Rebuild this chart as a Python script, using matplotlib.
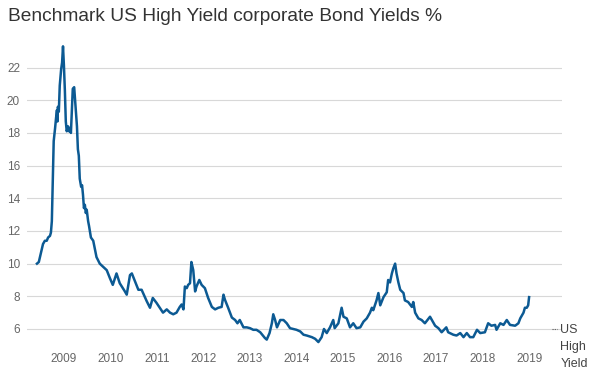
import matplotlib.pyplot as plt
from matplotlib.lines import Line2D

# decimal year / yield %
dates = [
    2008.42, 2008.46, 2008.51, 2008.55, 2008.59, 2008.63, 2008.66, 2008.70, 2008.72, 2008.74,
    2008.76, 2008.78, 2008.81, 2008.83, 2008.85, 2008.86, 2008.87, 2008.89, 2008.91, 2008.94,
    2008.96, 2008.98, 2009.00, 2009.02, 2009.04, 2009.06, 2009.09, 2009.11, 2009.13, 2009.15,
    2009.17, 2009.19, 2009.22, 2009.24, 2009.26, 2009.28, 2009.30, 2009.32, 2009.34, 2009.37,
    2009.39, 2009.41, 2009.43, 2009.45, 2009.47, 2009.49, 2009.52, 2009.54, 2009.58, 2009.63,
    2009.70, 2009.77, 2009.92, 2009.99, 2010.05, 2010.13, 2010.20, 2010.31, 2010.35, 2010.42,
    2010.46, 2010.53, 2010.60, 2010.67, 2010.78, 2010.85, 2010.91, 2010.99, 2011.06, 2011.13,
    2011.21, 2011.28, 2011.35, 2011.42, 2011.49, 2011.53, 2011.57, 2011.60, 2011.64, 2011.67,
    2011.71, 2011.74, 2011.78, 2011.82, 2011.85, 2011.91, 2011.96, 2012.03, 2012.10, 2012.18,
    2012.25, 2012.32, 2012.39, 2012.43, 2012.46, 2012.53, 2012.61, 2012.68, 2012.73, 2012.78,
    2012.86, 2012.93, 2013.00, 2013.07, 2013.14, 2013.22, 2013.32, 2013.36, 2013.42, 2013.47,
    2013.50, 2013.54, 2013.58, 2013.65, 2013.72, 2013.79, 2013.86, 2013.93, 2014.00, 2014.08,
    2014.15, 2014.22, 2014.33, 2014.40, 2014.47, 2014.54, 2014.59, 2014.65, 2014.72, 2014.79,
    2014.82, 2014.90, 2014.97, 2015.01, 2015.08, 2015.15, 2015.22, 2015.29, 2015.37, 2015.44,
    2015.51, 2015.58, 2015.62, 2015.65, 2015.72, 2015.76, 2015.80, 2015.87, 2015.94, 2015.97,
    2016.01, 2016.05, 2016.08, 2016.12, 2016.15, 2016.19, 2016.23, 2016.30, 2016.33, 2016.40,
    2016.48, 2016.51, 2016.55, 2016.62, 2016.69, 2016.76, 2016.87, 2016.91, 2016.98, 2017.05,
    2017.12, 2017.22, 2017.26, 2017.37, 2017.44, 2017.52, 2017.59, 2017.66, 2017.73, 2017.80,
    2017.88, 2017.95, 2018.05, 2018.12, 2018.19, 2018.27, 2018.30, 2018.38, 2018.45, 2018.52,
    2018.59, 2018.70, 2018.77, 2018.81, 2018.88, 2018.91, 2018.95, 2018.98, 2019.00,
]
yields = [
    10.0, 10.1, 10.7, 11.2, 11.4, 11.4, 11.6, 11.7, 11.9, 12.6,
    15.1, 17.5, 18.3, 18.9, 19.4, 18.7, 19.6, 19.3, 20.9, 21.9,
    22.3, 23.3, 22.1, 20.6, 18.7, 18.1, 18.4, 18.1, 18.3, 18.0,
    19.4, 20.7, 20.8, 20.0, 19.2, 18.4, 17.0, 16.6, 15.2, 14.7,
    14.8, 14.2, 13.4, 13.6, 13.1, 13.3, 12.6, 12.3, 11.6, 11.4,
    10.4, 10.0, 9.6, 9.1, 8.7, 9.4, 8.8, 8.3, 8.1, 9.3,
    9.4, 8.9, 8.4, 8.4, 7.7, 7.3, 7.9, 7.6, 7.3, 7.0,
    7.2, 7.0, 6.9, 7.0, 7.35, 7.5, 7.2, 8.6, 8.5, 8.7,
    8.8, 10.1, 9.6, 8.3, 8.6, 9.0, 8.7, 8.5, 7.9, 7.35,
    7.2, 7.3, 7.35, 8.1, 7.8, 7.3, 6.7, 6.55, 6.35, 6.55,
    6.1, 6.1, 6.05, 5.95, 5.95, 5.8, 5.45, 5.35, 5.75, 6.35,
    6.9, 6.55, 6.1, 6.55, 6.55, 6.35, 6.05, 6.0, 5.95, 5.85,
    5.65, 5.6, 5.5, 5.4, 5.2, 5.5, 6.0, 5.75, 6.1, 6.55,
    6.05, 6.35, 7.3, 6.75, 6.65, 6.1, 6.35, 6.05, 6.1, 6.45,
    6.65, 7.0, 7.3, 7.15, 7.75, 8.2, 7.45, 7.95, 8.25, 9.0,
    8.85, 9.4, 9.7, 10.0, 9.4, 8.85, 8.4, 8.2, 7.75, 7.65,
    7.35, 7.65, 7.0, 6.65, 6.55, 6.35, 6.75, 6.55, 6.2, 6.05,
    5.8, 6.1, 5.8, 5.65, 5.6, 5.75, 5.5, 5.75, 5.5, 5.5,
    5.95, 5.75, 5.8, 6.35, 6.2, 6.25, 5.95, 6.35, 6.25, 6.55,
    6.25, 6.2, 6.35, 6.65, 7.0, 7.3, 7.3, 7.45, 7.95,
]
year_labels = list(range(2009, 2020))
y_ticks = list(range(6, 24, 2))

plt.rcParams['font.family'] = ['Liberation Sans', 'DejaVu Sans']

fig = plt.figure(figsize=(5.98, 3.75), dpi=100)
ax = fig.add_axes([0.045, 0.08, 0.895, 0.813])

ax.plot(dates, yields, color='#0c5a93', linewidth=1.8, solid_joinstyle='round')

ax.set_xlim(2008.204, 2019.71)
ax.set_ylim(5.02, 23.68)
ax.set_yticks(y_ticks)
ax.set_xticks(year_labels)
ax.set_xticklabels([str(y) for y in year_labels])
ax.grid(axis='y', color='#d8d8d8', linewidth=0.8)
ax.set_axisbelow(True)
for s in ax.spines.values():
    s.set_visible(False)
ax.tick_params(length=0, labelsize=8.5, labelcolor='#666666')
ax.tick_params(axis='x', pad=6)
ax.tick_params(axis='y', pad=5)

fig.text(0.013, 0.955, 'Benchmark US High Yield corporate Bond Yields %',
         fontsize=13.8, color='#333333', ha='left', va='center')

# legend entry at the right
fig.add_artist(Line2D([0.923, 0.932], [0.123, 0.123], color='#555555',
                      linewidth=0.8, linestyle=(0, (1, 1))))
fig.text(0.937, 0.135, 'US\nHigh\nYield', fontsize=9, color='#444444',
         ha='left', va='top', linespacing=1.55)

fig.savefig('out.png', dpi=100)
